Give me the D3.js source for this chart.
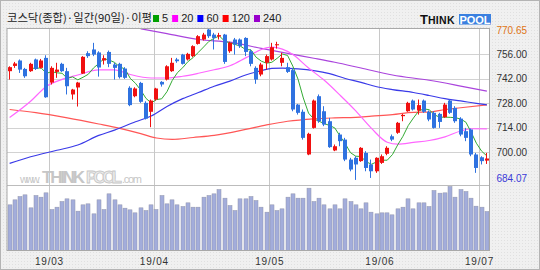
<!DOCTYPE html>
<html>
<head>
<meta charset="utf-8">
<script src="https://cdn.jsdelivr.net/npm/d3@7"></script>
<style>
  body { margin: 0; background: #fff; }
  svg { display: block; }
</style>
</head>
<body>
<div class="chart"></div>
<script>
// KOSDAQ daily candles, 90 trading days (19/02 ~ 19/07)
var openP = [746.2,749.2,752.3,747.5,746.2,752.9,748.1,753.8,739.7,745.8,750.4,746.2,732.9,736.9,744.8,756.5,758.6,756.9,752.3,757.2,
  750.0,750.4,747.7,736.7,731.9,739.5,728.1,723.0,730.0,740.1,741.4,746.2,752.9,755.7,752.9,754.8,761.8,764.3,770.0,767.1,
  766.0,767.1,757.6,764.3,764.3,765.2,757.6,748.1,744.3,751.0,752.9,761.0,751.0,748.5,746.8,727.1,723.0,698.6,713.8,731.9,
  723.3,717.6,700.9,710.0,707.1,695.7,696.7,694.8,699.5,692.9,689.0,693.8,699.0,709.0,711.0,720.5,723.3,729.4,723.7,729.4,
  723.0,722.4,721.8,719.9,729.4,725.2,719.1,711.9,712.9,698.6,697.0,695.1];
var highP = [749.0,751.5,752.9,748.1,751.0,753.4,753.2,755.3,749.0,751.0,751.0,748.1,736.1,740.1,754.8,757.6,762.4,757.6,755.3,758.0,
  751.0,751.0,748.5,737.6,737.0,740.1,729.0,730.0,736.7,740.5,749.6,753.8,753.8,756.1,756.7,761.0,766.8,768.1,770.65,768.1,
  768.1,767.5,763.0,765.2,764.9,765.6,758.6,749.0,751.0,755.7,762.4,763.0,756.7,751.0,748.1,727.5,724.3,711.0,730.0,732.9,
  726.2,719.5,704.3,711.0,708.1,696.7,697.6,702.8,700.5,695.7,697.0,698.6,703.3,710.0,717.2,721.8,728.7,730.0,730.0,730.0,
  723.7,723.3,722.4,728.1,730.0,726.2,719.9,713.8,713.4,699.5,697.6,699.5];
var lowP = [741.4,748.1,745.2,742.4,745.8,746.9,747.7,731.0,738.6,742.4,745.8,732.9,730.0,726.0,744.6,753.8,754.8,743.1,750.0,748.5,
  741.4,742.0,741.8,726.2,731.3,728.1,718.6,714.2,729.4,737.4,740.9,745.8,751.0,750.0,752.3,754.2,761.4,763.7,765.2,758.6,
  764.3,750.4,756.7,755.7,759.5,754.8,749.0,739.0,743.3,747.1,752.3,759.1,749.0,745.2,723.3,721.4,707.1,698.2,713.4,716.7,
  714.8,702.4,700.5,703.3,694.8,689.0,684.07,694.4,689.0,685.2,688.1,693.2,698.2,706.2,710.4,717.6,723.0,723.7,721.4,722.4,
  717.6,713.4,713.8,719.5,721.8,716.7,709.0,706.2,697.6,688.1,692.9,693.2];
var closeP = [748.5,750.6,747.1,743.3,750.4,747.5,752.3,731.3,748.1,747.1,746.2,737.6,735.7,739.7,754.4,754.8,755.7,748.3,753.6,750.4,
  748.1,742.8,742.4,726.8,736.3,728.7,719.1,729.4,736.3,738.6,749.0,751.0,751.9,750.4,756.1,760.5,766.2,767.1,766.2,765.2,
  766.8,751.5,762.4,761.4,760.5,757.2,750.4,741.4,750.0,754.8,759.9,761.6,753.8,745.8,724.3,722.4,708.1,710.4,729.4,717.6,
  715.7,702.8,703.3,706.2,695.7,690.0,692.9,702.4,690.9,689.0,696.7,697.6,702.4,707.1,716.7,721.2,728.1,724.3,726.8,723.0,
  718.6,713.8,717.2,727.1,722.4,717.6,710.0,708.1,698.6,690.9,694.8,696.3];
// volume (million shares)
var volume = [685,760,810,835,640,825,800,865,615,650,735,775,760,590,685,700,550,760,615,850,
  760,685,635,610,565,640,600,685,615,825,700,760,685,660,715,650,650,800,825,850,
  915,785,675,600,775,775,810,750,650,575,685,600,625,800,850,785,785,935,735,785,
  685,625,685,625,775,735,685,625,715,575,550,565,565,535,625,650,775,625,715,715,
  660,900,860,865,960,800,915,885,785,665,650,585];

// moving averages: [day index, value]
var ma20 = [[0,719.7],[4,729],[7,737.5],[10,741.5],[13,744],[17,747],[20,747],[23,744.3],[27,742.3],[30,742.3],[33,743.3],
  [36,745],[39,747],[42,749.3],[45,753.8],[48,758.6],[50,759.9],[52,758.8],[54,755.7],[57,748],[60,741],[63,732.5],
  [66,723.5],[69,713.5],[72,705.6],[74,704.5],[77,705.5],[80,706.6],[83,708.7],[86,712],[88,713.3],[91,713.2]];
var ma60 = [[0,693.5],[4,697.3],[9,701],[13,704],[17,709.5],[20,712.5],[24,717.3],[27,720.6],[30,726],[33,730.5],[36,734],
  [39,737.6],[42,740.5],[45,744],[48,746.5],[50,747.8],[52,748],[55,747.5],[58,746.5],[61,744.8],[64,742],[67,739.8],
  [70,737.3],[73,735.7],[77,734],[80,732.3],[83,730.5],[86,729.2],[89,727.8],[91,727]];
var ma120 = [[0,724.3],[5,722.5],[11,719.5],[17,716],[21,713.5],[25,710.5],[28,708],[31,707.2],[35,708.3],[39,709.5],
  [45,712.9],[49,715.5],[53,717.6],[58,719],[62,719.5],[66,719.8],[69,720.5],[73,721.4],[77,722.7],[80,722.8],[83,724.3],
  [86,725.3],[91,727]];
var ma240 = [[25,770.4],[30,767.7],[36,764.3],[42,762.8],[48,759.2],[54,755.8],[58,753.6],[62,751.3],[67,748],[73,744],
  [80,741],[86,737.7],[91,734.8]];

var monthIdx = [8, 28, 50, 71, 90];
var monthLabels = ["19/03", "19/04", "19/05", "19/06", "19/07"];
var priceTicks = [770.65, 756, 742, 728, 714, 700, 684.07];
var gridTicks = [756, 742, 728, 714, 700];
var maNames = ["5", "20", "60", "120", "240"];
var maColors = ["#00a000", "#ff00ff", "#0000ff", "#ff0000", "#9900cc"];

var svgWidth = 540;
var svgHeight = 270;
var frame = { left: 7, right: 489.5, top: 28.5, split: 185.5, bottom: 250.5 };

var svg = d3.select(".chart").append("svg")
  .attr("width", svgWidth)
  .attr("height", svgHeight)
  .style("font-family", "'Liberation Sans', Arial, sans-serif");

var defs = svg.append("defs");
var pat = defs.append("pattern")
  .attr("id", "dots")
  .attr("width", 3).attr("height", 3)
  .attr("patternUnits", "userSpaceOnUse");
pat.append("rect").attr("width", 3).attr("height", 3).attr("fill", "#f0f0f0");
pat.append("rect").attr("width", 1).attr("height", 1).attr("fill", "#e0e0e0");

defs.append("clipPath").attr("id", "priceClip").append("rect")
  .attr("x", frame.left).attr("y", frame.top)
  .attr("width", frame.right - frame.left).attr("height", frame.split - frame.top);

// page + plot backgrounds
svg.append("rect").attr("width", svgWidth).attr("height", svgHeight).attr("fill", "url(#dots)");
svg.append("rect")
  .attr("x", 0.5).attr("y", 0.5).attr("width", svgWidth - 1).attr("height", svgHeight - 1)
  .attr("fill", "none").attr("stroke", "#b4b4b4");
svg.append("rect")
  .attr("x", frame.left).attr("y", frame.top)
  .attr("width", frame.right - frame.left).attr("height", frame.bottom - frame.top)
  .attr("fill", "#ffffff");

// scales
var n = closeP.length;
var x = d3.scaleBand()
  .domain(d3.range(n))
  .range([frame.left, frame.right])
  .paddingInner(0.2)
  .paddingOuter(0.1);
var xi = d3.scaleLinear()
  .domain([0, n - 1])
  .range([x(0) + x.bandwidth() / 2, x(n - 1) + x.bandwidth() / 2]);
var y = d3.scaleLinear().domain([684.07, 770.65]).range([179.9, 28.4]);
var yVol = d3.scaleLinear().domain([0, 975]).range([frame.bottom, frame.split]);

var cx = i => Math.round(xi(i));

// grid lines
svg.append("g").selectAll("line")
  .data(gridTicks)
  .join("line")
  .attr("x1", frame.left).attr("x2", frame.right)
  .attr("y1", d => Math.round(y(d)) + 0.5)
  .attr("y2", d => Math.round(y(d)) + 0.5)
  .attr("stroke", "#d2d2d2");

svg.append("g").selectAll("line")
  .data(monthIdx)
  .join("line")
  .attr("x1", d => Math.round(xi(d - 0.5)) + 0.5)
  .attr("x2", d => Math.round(xi(d - 0.5)) + 0.5)
  .attr("y1", frame.top).attr("y2", frame.bottom)
  .attr("stroke", "#c8c8c8");

// watermark (one text, so the pieces sit side by side)
var wm = svg.append("text")
  .attr("y", 183)
  .attr("fill", "#c6c6c6")
  .attr("lengthAdjust", "spacingAndGlyphs");
wm.append("tspan").attr("x", 20).attr("font-size", 11).attr("textLength", 20).text("www.");
wm.append("tspan").attr("x", 42).attr("font-size", 17).attr("font-weight", "bold")
  .attr("textLength", 43).text("THINK");
wm.append("tspan").attr("x", 86).attr("font-size", 17).attr("font-weight", "bold")
  .attr("textLength", 36).attr("fill", "#eeeeee").attr("stroke", "#c6c6c6").attr("stroke-width", 0.8)
  .text("POOL");
wm.append("tspan").attr("x", 122).attr("font-size", 11).attr("textLength", 20).text(".com");

// moving average lines
var priceG = svg.append("g").attr("clip-path", "url(#priceClip)");
var maLine = d3.line()
  .x(d => xi(d[0]))
  .y(d => y(d[1]))
  .curve(d3.curveMonotoneX);

[ma240, ma120, ma60, ma20].forEach(function(series, k) {
  var colors = ["#aa44dd", "#ff5656", "#3a3ae8", "#ff66ff"];
  priceG.append("path")
    .datum(series)
    .attr("fill", "none")
    .attr("stroke", colors[k])
    .attr("stroke-width", 1.2)
    .attr("d", maLine);
});

// 5 day average from the closes
var ma5 = [];
closeP.forEach(function(c, i) {
  if (i >= 4) ma5.push([i, d3.mean(closeP.slice(i - 4, i + 1))]);
});
priceG.append("path")
  .datum(ma5)
  .attr("fill", "none")
  .attr("stroke", "#33aa33")
  .attr("stroke-width", 1)
  .attr("d", d3.line().x(d => xi(d[0])).y(d => y(d[1])));

// candles
var candles = priceG.selectAll("g.candle")
  .data(d3.range(n))
  .join("g")
  .attr("class", "candle")
  .attr("fill", i => closeP[i] >= openP[i] ? "#f01010" : "#2f72e0");

candles.append("rect")
  .attr("x", i => cx(i) - 1)
  .attr("width", 1)
  .attr("y", i => y(highP[i]))
  .attr("height", i => y(lowP[i]) - y(highP[i]));

candles.append("rect")
  .attr("x", i => cx(i) - 2)
  .attr("width", 4)
  .attr("y", i => y(Math.max(openP[i], closeP[i])))
  .attr("height", i => Math.max(1, Math.abs(y(openP[i]) - y(closeP[i]))));

// volume bars
svg.append("g").selectAll("rect")
  .data(volume)
  .join("rect")
  .attr("x", (d, i) => cx(i) - 2)
  .attr("width", 4)
  .attr("y", d => yVol(d))
  .attr("height", d => frame.bottom - yVol(d))
  .attr("fill", "#a3addb")
  .attr("stroke", "#9195ac")
  .attr("stroke-width", 0.5);

// panel frames
svg.append("line")
  .attr("x1", frame.left).attr("x2", frame.right)
  .attr("y1", frame.split).attr("y2", frame.split)
  .attr("stroke", "#bcbcbc");
svg.append("rect")
  .attr("x", frame.left).attr("y", frame.top)
  .attr("width", frame.right - frame.left).attr("height", frame.bottom - frame.top)
  .attr("fill", "none").attr("stroke", "#a8a8a8");

// price axis on the right
var rightAxis = d3.axisRight(y)
  .tickValues(priceTicks)
  .tickFormat(d3.format(".2f"))
  .tickSize(0)
  .tickPadding(7);
var ra = svg.append("g")
  .attr("transform", `translate(${frame.right}, 0)`)
  .call(rightAxis);
ra.select(".domain").remove();
ra.selectAll(".tick text")
  .attr("font-family", "'Liberation Sans', Arial, sans-serif")
  .attr("font-size", 10)
  .attr("fill", d => d === 770.65 ? "#e07414" : d === 684.07 ? "#3a3ad8" : "#333")
  .attr("y", d => d === 770.65 ? 2.3 : d === 684.07 ? -1.6 : 0);

// month labels at the bottom
var bottomAxis = d3.axisBottom(xi)
  .tickValues(monthIdx.map(i => i - 0.5))
  .tickFormat((d, k) => monthLabels[k])
  .tickSize(0)
  .tickPadding(7.5);
var ba = svg.append("g")
  .attr("transform", `translate(0, ${frame.bottom})`)
  .call(bottomAxis);
ba.select(".domain").remove();
ba.selectAll(".tick text")
  .attr("font-family", "'Liberation Sans', Arial, sans-serif")
  .attr("font-size", 10)
  .attr("letter-spacing", 0.8)
  .attr("fill", "#333");

// legend
svg.append("text")
  .attr("x", 7).attr("y", 22)
  .attr("font-family", "'Noto Sans CJK KR', sans-serif")
  .attr("font-size", 11)
  .attr("fill", "#222")
  .attr("textLength", 145)
  .attr("lengthAdjust", "spacingAndGlyphs")
  .text("코스닥(종합)·일간(90일)·이평");

var lx = 153;
maNames.forEach(function(name, k) {
  svg.append("rect")
    .attr("x", lx).attr("y", 15)
    .attr("width", 6).attr("height", 7)
    .attr("fill", maColors[k]);
  var t = svg.append("text")
    .attr("x", lx + 9).attr("y", 22)
    .attr("font-size", 11)
    .attr("fill", "#222")
    .text(name);
  lx += 9 + t.node().getComputedTextLength() + 4;
});

// ThinkPool logo
var logo = svg.append("g");
logo.append("text")
  .attr("x", 420).attr("y", 24)
  .attr("font-weight", "bold")
  .attr("fill", "#111")
  .call(function(t) {
    t.append("tspan").attr("font-size", 13).text("T");
    t.append("tspan").attr("font-size", 10.5).attr("letter-spacing", 0.3).text("HINK");
  });
logo.append("rect")
  .attr("x", 459).attr("y", 14)
  .attr("width", 32).attr("height", 10.5)
  .attr("fill", "#3a80e0");
logo.append("text")
  .attr("x", 475).attr("y", 23.5)
  .attr("text-anchor", "middle")
  .attr("font-size", 11)
  .attr("font-weight", "bold")
  .attr("fill", "#fff")
  .text("POOL");
</script>
</body>
</html>
